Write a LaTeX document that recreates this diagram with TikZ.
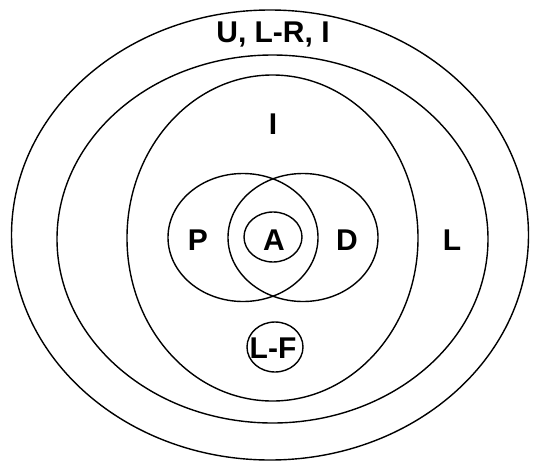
\documentclass[tikz,border=0pt]{standalone}
\usepackage{fontspec}
\setmainfont{Liberation Sans}
\usetikzlibrary{shapes.geometric}
\begin{document}
\begin{tikzpicture}[x=1pt,y=-1pt,
  ring/.style={draw,ellipse,line width=1.4pt,inner sep=0pt},
  lab/.style={font=\fontsize{30}{30}\selectfont\bfseries,inner sep=0pt,anchor=center}]
\useasboundingbox (0,0) rectangle (533,461);
\fill[white] (0,0) rectangle (533,461);
\node[ring,minimum width=517pt,minimum height=450pt] (outer) at (270,235) {};
\node[ring,minimum width=431pt,minimum height=368pt] (lring) at (272.5,239) {};
\node[ring,minimum width=291pt,minimum height=326pt] (iring) at (272.5,238) {};
\node[ring,minimum width=150pt,minimum height=128pt] (pring) at (243,237.5) {};
\node[ring,minimum width=150pt,minimum height=128pt] (dring) at (303,237.5) {};
\node[ring,minimum width=58pt,minimum height=50pt] (aring) at (273,237) {};
\node[ring,minimum width=56pt,minimum height=50pt] (lfring) at (275,347) {};
\node[lab] (t1) at (273,34) {U, L-R, I};
\node[lab] (t2) at (273,124) {I};
\node[lab] (tp) at (198,240) {P};
\node[lab] (ta) at (274,240) {A};
\node[lab] (td) at (347,240) {D};
\node[lab] (tl) at (452,240) {L};
\node[lab] (tlf) at (273,348) {L-F};
\end{tikzpicture}
\end{document}
